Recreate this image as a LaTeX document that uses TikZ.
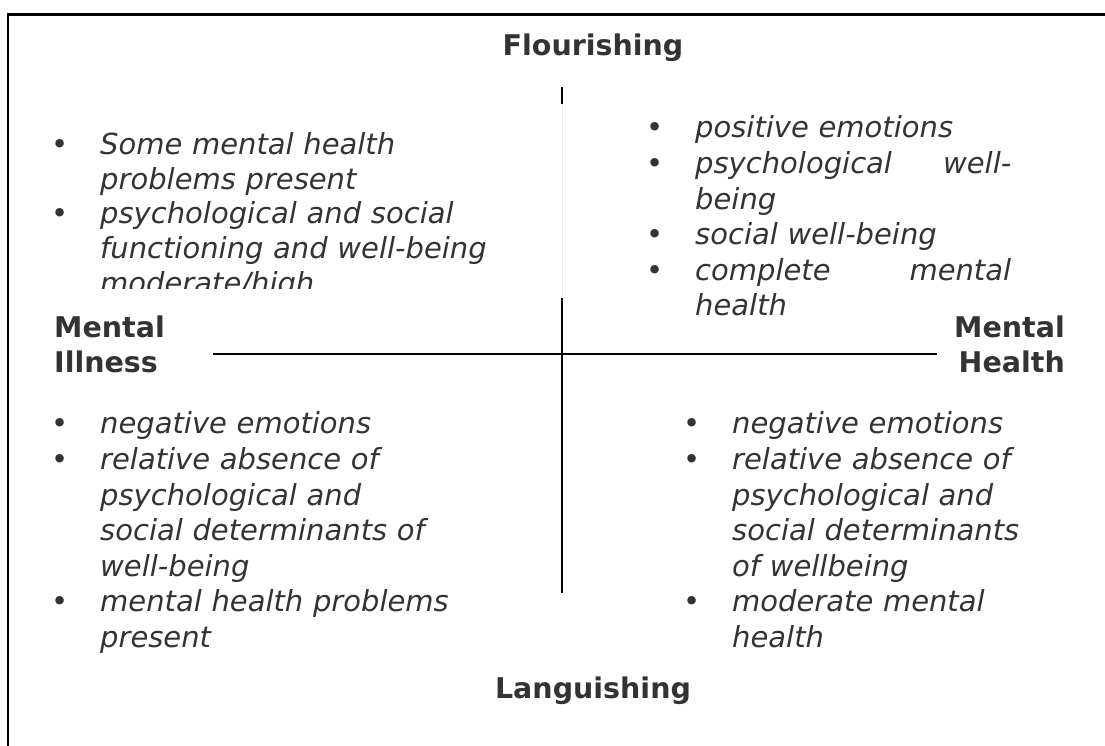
\documentclass[tikz,border=0pt]{standalone}
\usepackage{fontspec}
\setmainfont{DejaVu Sans}
\usetikzlibrary{positioning}

\definecolor{inkgray}{HTML}{333333}
\newcommand{\bitem}[1]{\par\noindent\hangindent=49pt\hangafter=1\strut\makebox[49pt][l]{\upshape\textbullet}#1\par}
\newcommand{\jfill}{\hskip 0pt plus 1fill\relax}

\begin{document}
\begin{tikzpicture}[x=1pt,y=-1pt]
		\useasboundingbox (0,0) rectangle (1105,745);
		\clip (0,0) rectangle (1105,745);
		\draw[line width=2.6pt] (8,760) -- (8,14.5) -- (1120,14.5);
		\begin{scope}[every node/.style={inner sep=0pt,text=inkgray,
			font=\bfseries\fontsize{28.5}{35.5}\selectfont}]
			\node[anchor=base] (flour) at (593,55) {Flourishing};
			\node[anchor=base] (lang) at (593,698) {Languishing};
			\node[anchor=north west,align=left] (ill) at (54,312.15) {\strut Mental\\Illness};
			\node[anchor=north east,align=right] (hlth) at (1065,312.15) {\strut Mental\\Health};
		\end{scope}
		\begin{scope}[every node/.style={inner sep=0pt,text=inkgray,anchor=north west,
			align=left,font=\itshape\fontsize{29}{35.6}\selectfont}]
			\begin{scope}
				\clip (0,0) rectangle (560,288.5);
				\node[text width=470pt,font=\itshape\fontsize{29}{34.6}\selectfont] (ul) at (51,119.8) {%
					\bitem{Some mental health\newline problems present}%
					\bitem{psychological and social\newline functioning and well-being\newline moderate/high}};
			\end{scope}
			\node[text width=365pt] (ur) at (646,102.1) {%
				\bitem{positive emotions}%
				\bitem{psychological\jfill well-\newline being}%
				\bitem{social well-being}%
				\bitem{complete\jfill mental\newline health}};
			\node[text width=470pt] (ll) at (51,398.1) {%
				\bitem{negative emotions}%
				\bitem{relative absence of\newline psychological and\newline social determinants of\newline well-being}%
				\bitem{mental health problems\newline present}};
			\node[text width=380pt] (lr) at (683,398.1) {%
				\bitem{negative emotions}%
				\bitem{relative absence of\newline psychological and\newline social determinants\newline of wellbeing}%
				\bitem{moderate mental\newline health}};
		\end{scope}
		\begin{scope}[every path/.style={line width=1.7pt}]
			\coordinate (tickT) at (562,87);
			\coordinate (tickB) at (562,104);
			\coordinate (vT) at (562,298);
			\coordinate (vB) at (562,593);
			\coordinate (hL) at (213,354);
			\coordinate (hR) at (937,354);
			\draw (tickT) -- (tickB);
			\draw[black!8,line width=1pt] (tickB) -- (vT);
			\draw (vT) -- (vB);
			\draw (hL) -- (hR);
		\end{scope}
	\end{tikzpicture}
\end{document}
